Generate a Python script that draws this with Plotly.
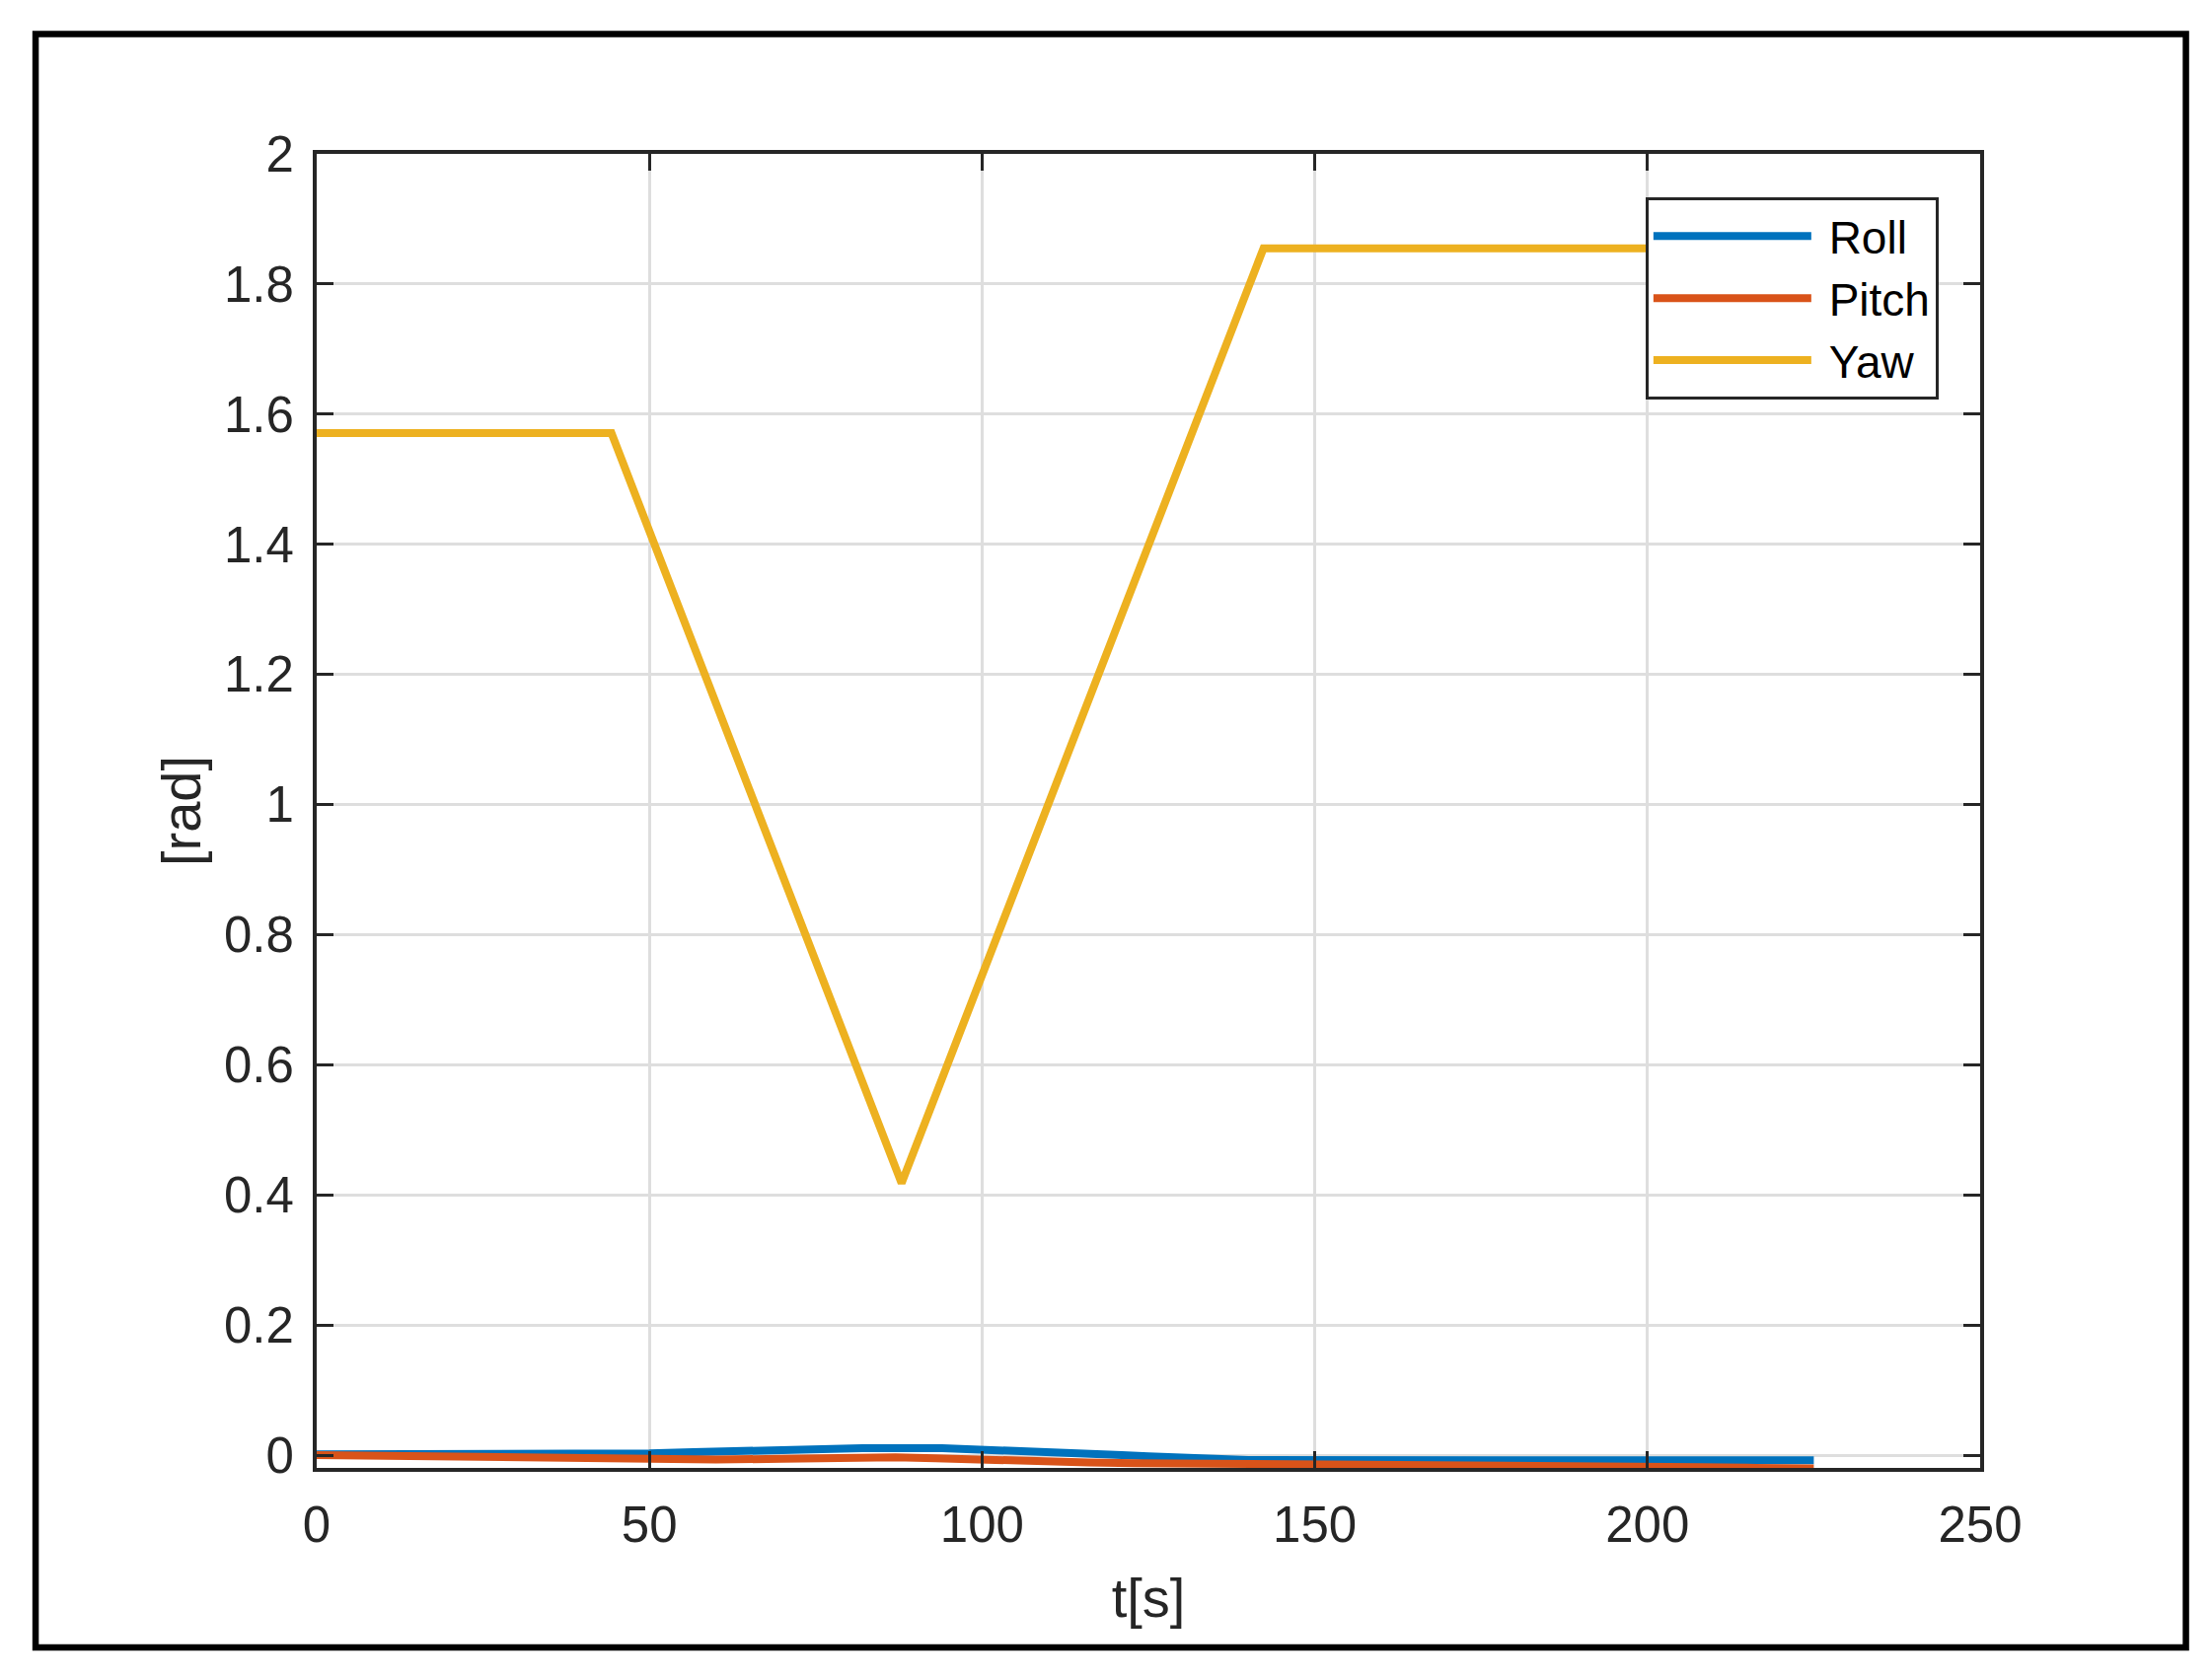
import plotly.graph_objects as go

# Attitude angles vs time
t_roll = [0, 45, 50, 56.6, 62.5, 68.6, 74.6, 82, 94, 99, 105, 110, 118, 121, 125, 129, 133, 136, 140, 180, 225]
roll = [0.001, 0.001, 0.0025, 0.0045, 0.006, 0.0076, 0.009, 0.0106, 0.0106, 0.009, 0.0076, 0.0045, 0.0015, 0.0,
        -0.002, -0.0035, -0.005, -0.0066, -0.0076, -0.008, -0.008]

t_pitch = [0, 7, 17, 28, 38, 48, 60, 70, 78, 87, 93, 97, 101, 107, 116, 123, 130, 137, 142, 152, 162, 170, 178,
           187, 195, 201, 208, 215, 222, 225]
pitch = [0.0, -0.0008, -0.0023, -0.0038, -0.0053, -0.0068, -0.0068, -0.0058, -0.0043, -0.0033, -0.0048, -0.0063,
         -0.0078, -0.0094, -0.0114, -0.0124, -0.0129, -0.0119, -0.0109, -0.0124, -0.0134, -0.0144, -0.0152,
         -0.0159, -0.0167, -0.0174, -0.0184, -0.0195, -0.0203, -0.0205]

t_yaw = [0, 44.3, 87.9, 142.3, 225]
yaw = [1.5708, 1.5708, 0.418, 1.855, 1.855]

x_ticks = [0, 50, 100, 150, 200, 250]
y_ticks = [0, 0.2, 0.4, 0.6, 0.8, 1, 1.2, 1.4, 1.6, 1.8, 2]

FONT = "Liberation Sans, Arial, sans-serif"
AX = "#262626"
PAD = "\u00a0"  # small gap between legend line and its text

fig = go.Figure()
fig.add_trace(go.Scatter(x=t_roll, y=roll, mode="lines", name=PAD + "Roll",
                         line=dict(color="#0072BD", width=8)))
fig.add_trace(go.Scatter(x=t_pitch, y=pitch, mode="lines", name=PAD + "Pitch",
                         line=dict(color="#D95319", width=8)))
fig.add_trace(go.Scatter(x=t_yaw, y=yaw, mode="lines", name=PAD + "Yaw",
                         line=dict(color="#EDB120", width=8)))

axis_common = dict(
    showline=True, linecolor=AX, linewidth=4, mirror="ticks",
    ticks="inside", ticklen=17, tickwidth=3, tickcolor=AX,
    showgrid=True, gridcolor="#dedede", gridwidth=3, zeroline=False,
    tickfont=dict(family=FONT, size=51, color=AX),
)

fig.update_xaxes(range=[0, 250], tickvals=x_ticks, ticklabelstandoff=10,
                 title=dict(text="t[s]", font=dict(family=FONT, size=56, color=AX), standoff=28),
                 **axis_common)
fig.update_yaxes(range=[-0.0197, 2], tickvals=y_ticks, ticklabelstandoff=9,
                 title=dict(text="[rad]", font=dict(family=FONT, size=56, color=AX), standoff=6),
                 **axis_common)

# outer black frame around the whole figure
fig.add_shape(type="rect", xref="paper", yref="paper", x0=-0.169, x1=1.1237, y0=-0.1366, y1=1.0912,
              line=dict(color="black", width=6.5), layer="above")

# page body has an 8px margin, so the figure is shifted by that amount
fig.update_layout(
    width=2234, height=1695,
    margin=dict(l=313, r=235, t=148, b=215, autoexpand=False),
    paper_bgcolor="white", plot_bgcolor="white",
    font=dict(family=FONT, color=AX),
    legend=dict(x=0.975, xanchor="right", y=0.967, yanchor="top",
                bgcolor="white", bordercolor=AX, borderwidth=3,
                font=dict(family=FONT, size=46, color="black"),
                itemwidth=160, tracegroupgap=0),
    showlegend=True,
)

fig.write_html("out.html")
